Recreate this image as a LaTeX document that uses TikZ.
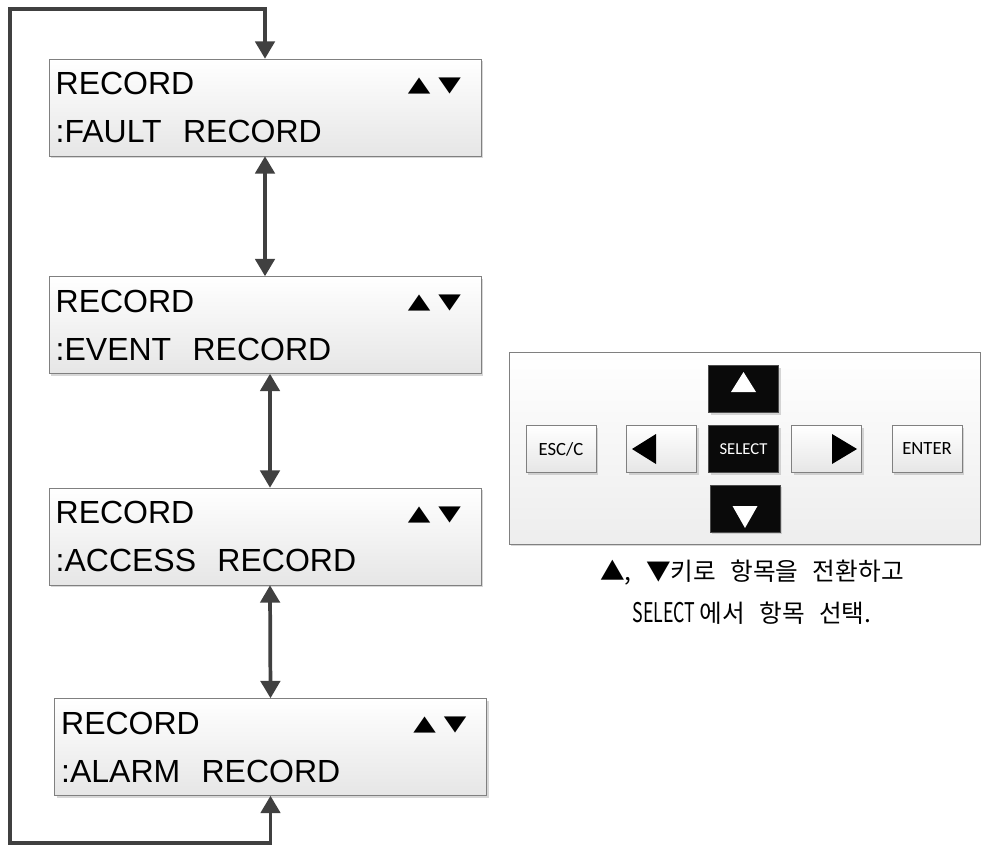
\documentclass[tikz,border=0pt]{standalone}
\usepackage{fontspec}
\setmainfont{Liberation Sans}
\newfontfamily\keyfont{Carlito}
\newfontfamily\hanfont[WordSpace=2.6]{Noto Sans CJK KR}
\newfontfamily\symfont{DejaVu Sans}
\usepackage{graphicx}
\usetikzlibrary{arrows.meta, calc, shadows}
\definecolor{mline}{HTML}{404040}
\definecolor{mframe}{HTML}{808080}
\definecolor{mshade}{HTML}{E6E6E6}
\definecolor{mkey}{HTML}{0A0A0A}
\newcommand{\lcdarrows}{{\symfont\fontsize{22}{22}\selectfont
  \raisebox{2.5pt}{\scalebox{1}[0.72]{▲}}\hspace{6pt}\raisebox{2.5pt}{\scalebox{1}[0.72]{▼}}}\kern10pt\null}
\tikzset{
  soft/.style={drop shadow={shadow xshift=1.5pt, shadow yshift=-1.5pt,
               fill=black!35, opacity=0.45}},
  lcd/.style={draw=mframe, top color=white, bottom color=mshade, soft,
              minimum width=324pt, minimum height=72.75pt, inner xsep=5pt,
              inner ysep=0pt, text width=314pt, align=left,
              font=\fontsize{24}{36}\selectfont},
  keybase/.style={minimum width=52.5pt, minimum height=35.25pt, inner sep=0pt, soft},
  keybox/.style={keybase, draw=mframe, top color=white, bottom color=mshade,
                 font=\keyfont\fontsize{14}{14}\selectfont},
  darkkey/.style={keybase, draw=black!70, fill=mkey, text=white,
                  font=\keyfont\fontsize{12.5}{12.5}\selectfont},
  arr/.style={<->, >={Triangle[length=13pt, width=14.5pt]}, line width=2.8pt, draw=mline},
}
\begin{document}
\begin{tikzpicture}[x=0.75pt, y=-0.75pt,
    panel/.style={draw=mframe, top color=white, bottom color=black!7, soft,
                  minimum width=353pt, minimum height=144pt}]
  \useasboundingbox (0,0) rectangle (981,846);
  % display screens
  \node[lcd] (fault) at (265,107.5) {RECORD\hfill\lcdarrows\\:FAULT\ \ RECORD};
  \node[lcd] (event) at (265,325) {RECORD\hfill\lcdarrows\\:EVENT\ \ RECORD};
  \node[lcd] (access) at (265,536.5) {RECORD\hfill\lcdarrows\\:ACCESS\ \ RECORD};
  \node[lcd] (alarm) at (270.5,747) {RECORD\hfill\lcdarrows\\:ALARM\ \ RECORD};
  % up/down between screens
  \draw[arr] (fault.south) -- (event.north);
  \draw[arr] ([xshift=3.75pt]event.south) -- ([xshift=3.75pt]access.north);
  \draw[arr] ([xshift=3.75pt]access.south) -- (alarm.north);
  % wrap around
  \coordinate (lt) at (10,9);
  \coordinate (lb) at (10,843);
  \draw[arr] (alarm.south) |- (lb) -- (lt) -| (fault.north);
  % keypad
  \node[panel] (pad) at (744.5,448) {};
  \node[darkkey] (up) at (743.5,389) {};
  \node[keybox] (esc) at (561,449) {ESC/C};
  \node[keybox] (left) at (661.5,449) {};
  \node[darkkey] (sel) at (743.5,449) {SELECT};
  \node[keybox] (right) at (826.5,449) {};
  \node[keybox] (enter) at (927,449) {ENTER};
  \node[darkkey] (down) at (745,508.5) {};
  \fill[white] ($(up)+(0,-17)$) -- ($(up)+(12.5,3)$) -- ($(up)+(-12.5,3)$) -- cycle;
  \fill[white] ($(down)+(0,19.5)$) -- ($(down)+(12.5,-2.5)$) -- ($(down)+(-12.5,-2.5)$) -- cycle;
  \fill[black] ($(left)+(-29.5,0)$) -- ($(left)+(-5.5,-15)$) -- ($(left)+(-5.5,15)$) -- cycle;
  \fill[black] ($(right)+(30.5,0)$) -- ($(right)+(5.5,-15)$) -- ($(right)+(5.5,15)$) -- cycle;
  % how to use it
  \node[align=center, font=\hanfont\fontsize{18.5}{31.5}\selectfont] (hint) at (752,592)
    {▲, ▼키로 항목을 전환하고\\\scalebox{0.72}[1.1]{SELECT}\,에서 항목 선택.};
\end{tikzpicture}
\end{document}
